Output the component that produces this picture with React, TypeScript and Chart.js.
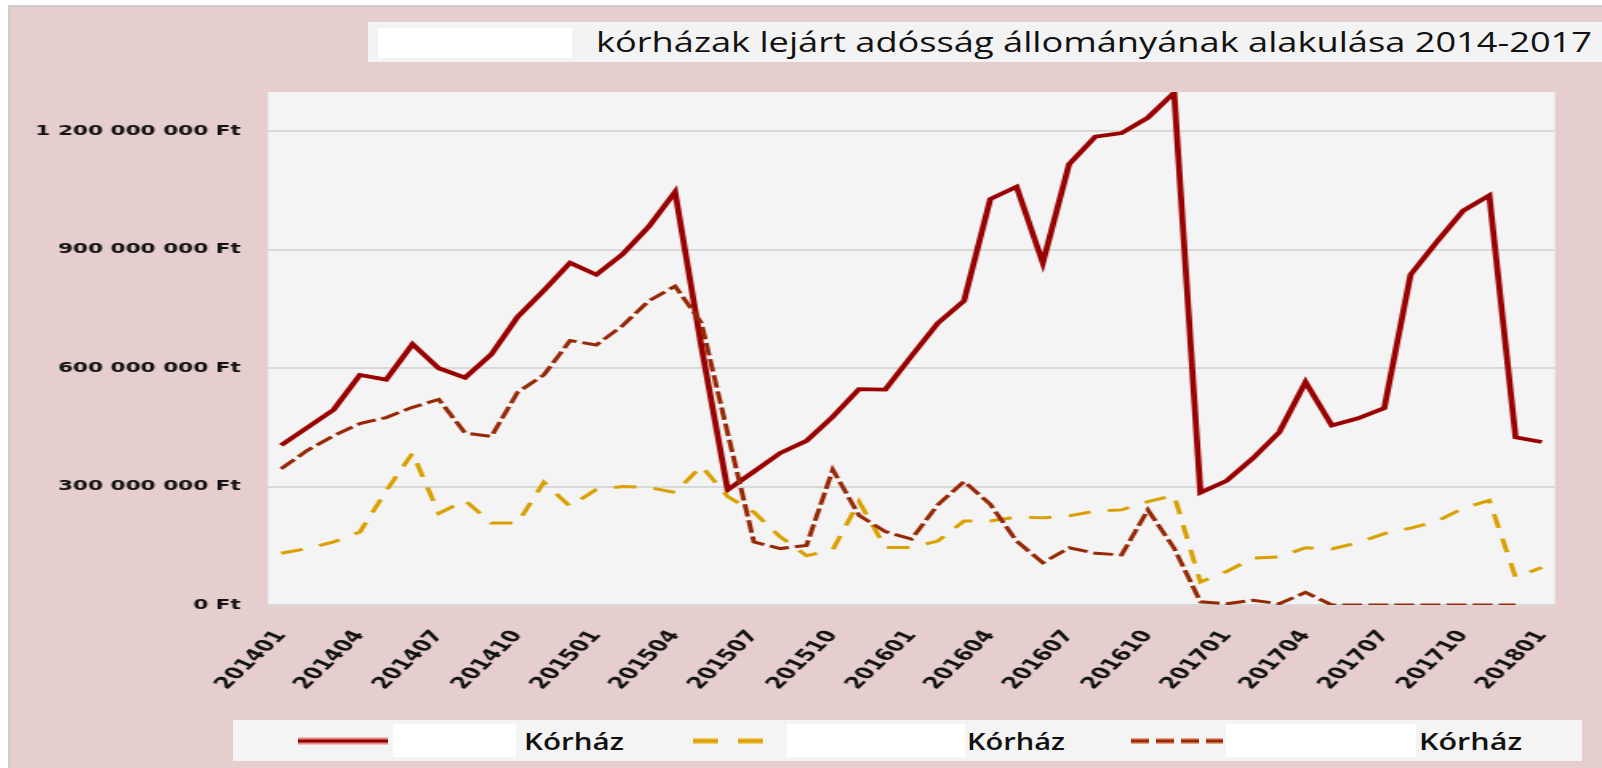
import React, { useEffect, useRef } from 'react';
import { Chart, registerables } from 'chart.js';

Chart.register(...registerables);

// ---- data (values in million Ft) ----
const months = [
  '201401','201402','201403','201404','201405','201406','201407','201408','201409','201410','201411','201412',
  '201501','201502','201503','201504','201505','201506','201507','201508','201509','201510','201511','201512',
  '201601','201602','201603','201604','201605','201606','201607','201608','201609','201610','201611','201612',
  '201701','201702','201703','201704','201705','201706','201707','201708','201709','201710','201711','201712',
  '201801',
];

const solidSeries = [
  405, 450, 495, 583, 571, 661, 600, 576, 635, 730, 797, 867,
  837, 889, 959, 1047, 655, 292, 338, 385, 416, 477, 547, 546,
  631, 714, 771, 1029, 1060, 867, 1117, 1187, 1196, 1235, 1298, 285,
  315, 372, 438, 565, 455, 473, 499, 837, 920, 999, 1038, 425,
  413,
];

const goldSeries = [
  131, 143, 160, 185, 289, 385, 232, 265, 208, 208, 311, 250,
  293, 300, 298, 285, 352, 275, 235, 173, 125, 140, 262, 146,
  146, 162, 213, 213, 223, 221, 226, 238, 241, 262, 278, 58,
  85, 119, 122, 145, 142, 158, 181, 195, 212, 245, 265, 70,
  95,
];

const brownSeries = [
  345, 392, 429, 460, 475, 501, 521, 436, 427, 539, 583, 670,
  659, 708, 771, 808, 715, 436, 160, 143, 151, 343, 227, 186,
  167, 254, 313, 255, 162, 107, 145, 131, 127, 241, 144, 8,
  3, 12, 3, 32, 0, 0, 0, 0, 0, 0, 0, 0,
];

const yTickValues = [0, 300, 600, 900, 1200];
const legendLabels = ['Kórház', 'Kórház', 'Kórház'];
const titleText = 'kórházak lejárt adósság állományának alakulása 2014-2017';

// ---- layout ----
const FULL_W = 1602;
const FULL_H = 768;
const CANVAS_W = 1001;
const SX = FULL_W / CANVAS_W;
const u = (x: number) => x / SX;

const PLOT_LEFT = 268;
const PLOT_RIGHT = 1555;
const PLOT_TOP = 92;
const PLOT_BOTTOM = 605;
const X_AXIS_H = 100;

const fmtFt = (m: number) => {
  const s = String(Math.round(m * 1000000)).replace(/\B(?=(\d{3})+(?!\d))/g, ' ');
  return s + ' Ft';
};

const plotBg = {
  id: 'plotBg',
  beforeDraw(chart: any) {
    const { ctx, chartArea } = chart;
    ctx.save();
    ctx.fillStyle = '#F4F4F4';
    ctx.fillRect(chartArea.left, chartArea.top, chartArea.right - chartArea.left, chartArea.bottom - chartArea.top);
    ctx.restore();
  },
};

export default function App() {
  const canvasRef = useRef<HTMLCanvasElement | null>(null);

  useEffect(() => {
    const canvas = canvasRef.current;
    if (!canvas) return;
    const chart = new Chart(canvas, {
      type: 'line',
      data: {
        labels: months,
        datasets: [
          {
            label: legendLabels[0],
            data: solidSeries,
            borderColor: '#990000',
            borderWidth: 3.8,
            pointRadius: 0,
            tension: 0,
            order: 3,
          },
          {
            label: legendLabels[1],
            data: goldSeries,
            borderColor: '#D9A000',
            borderWidth: 3,
            borderDash: [14, 11],
            pointRadius: 0,
            tension: 0,
            order: 2,
          },
          {
            label: legendLabels[2],
            data: brownSeries,
            borderColor: '#962805',
            borderWidth: 3,
            borderDash: [12.5, 3.8],
            pointRadius: 0,
            tension: 0,
            order: 1,
          },
        ],
      },
      options: {
        responsive: false,
        animation: false,
        devicePixelRatio: 1,
        layout: {
          padding: {
            left: 0,
            right: CANVAS_W - u(PLOT_RIGHT),
            top: PLOT_TOP,
            bottom: FULL_H - PLOT_BOTTOM - X_AXIS_H,
          },
        },
        plugins: {
          legend: { display: false },
          title: { display: false },
          tooltip: { enabled: false },
        },
        scales: {
          x: {
            type: 'category',
            offset: true,
            grid: { display: false },
            border: { display: false },
            ticks: {
              autoSkip: false,
              maxRotation: 56,
              minRotation: 56,
              padding: 14,
              color: '#111',
              font: { family: 'DejaVu Sans', size: 16, weight: 'bold' },
              callback: (_v: any, i: number) => (i % 3 === 0 ? months[i] : ''),
            },
            afterFit: (scale: any) => {
              scale.height = X_AXIS_H;
            },
          },
          y: {
            min: 0,
            max: 1300,
            grid: { color: '#D9D9D9', lineWidth: 2, drawTicks: false },
            border: { display: false },
            ticks: {
              stepSize: 300,
              padding: 17,
              color: '#111',
              font: { family: 'DejaVu Sans', size: 13.5, weight: 'bold' },
              callback: (v: any) => fmtFt(Number(v)),
            },
            afterBuildTicks: (scale: any) => {
              scale.ticks = yTickValues.map((v) => ({ value: v }));
            },
            afterFit: (scale: any) => {
              scale.width = u(PLOT_LEFT);
            },
          },
        },
      },
      plugins: [plotBg],
    });
    return () => chart.destroy();
  }, []);

  return (
    <div style={{ position: 'fixed', left: 0, top: 0, width: FULL_W, height: FULL_H, overflow: 'hidden', background: '#fff' }}>
      <div
        style={{
          position: 'absolute', left: 8, top: 5, right: 0, bottom: 0,
          background: '#E6CECE', borderTop: '2px solid #CDCDCD', borderLeft: '2px solid #CDCDCD',
        }}
      />
      <div
        style={{
          position: 'absolute', left: 0, top: 0, width: CANVAS_W, height: FULL_H,
          transform: `scaleX(${SX})`, transformOrigin: '0 0',
        }}
      >
        <canvas ref={canvasRef} width={CANVAS_W} height={FULL_H} style={{ width: CANVAS_W, height: FULL_H, display: 'block' }} />
      </div>
      <svg width={FULL_W} height={FULL_H} style={{ position: 'absolute', left: 0, top: 0 }}>
        {/* title */}
        <rect x={368} y={22} width={1234} height={40} fill="#F3F3F3" />
        <rect x={378} y={28} width={194} height={30} fill="#FFFFFF" />
        <text x={596} y={52} fontFamily="Open Sans" fontSize={27} fontWeight={500} fill="#111" textLength={996} lengthAdjust="spacingAndGlyphs">
          {titleText}
        </text>
        {/* legend */}
        <rect x={233} y={720} width={1349} height={41} fill="#F4F4F4" />
        <line x1={298} y1={741} x2={388} y2={741} stroke="#E58A8A" strokeWidth={7} />
        <line x1={298} y1={741} x2={388} y2={741} stroke="#8E0000" strokeWidth={3} />
        <rect x={393} y={724} width={123} height={33} fill="#FFFFFF" />
        <text x={524} y={750} fontFamily="Open Sans" fontSize={23} fontWeight={600} fill="#111" textLength={100} lengthAdjust="spacingAndGlyphs">
          {legendLabels[0]}
        </text>
        <line x1={693} y1={741} x2={764} y2={741} stroke="#F0CC70" strokeWidth={6} strokeDasharray="25 20" />
        <line x1={693} y1={741} x2={764} y2={741} stroke="#D9A000" strokeWidth={3} strokeDasharray="25 20" />
        <rect x={787} y={724} width={178} height={33} fill="#FFFFFF" />
        <text x={967} y={750} fontFamily="Open Sans" fontSize={23} fontWeight={600} fill="#111" textLength={98} lengthAdjust="spacingAndGlyphs">
          {legendLabels[1]}
        </text>
        <line x1={1131} y1={741} x2={1223} y2={741} stroke="#E8A080" strokeWidth={6} strokeDasharray="18 7" />
        <line x1={1131} y1={741} x2={1223} y2={741} stroke="#962805" strokeWidth={3} strokeDasharray="18 7" />
        <rect x={1226} y={724} width={190} height={33} fill="#FFFFFF" />
        <text x={1419} y={750} fontFamily="Open Sans" fontSize={23} fontWeight={600} fill="#111" textLength={103} lengthAdjust="spacingAndGlyphs">
          {legendLabels[2]}
        </text>
      </svg>
    </div>
  );
}
